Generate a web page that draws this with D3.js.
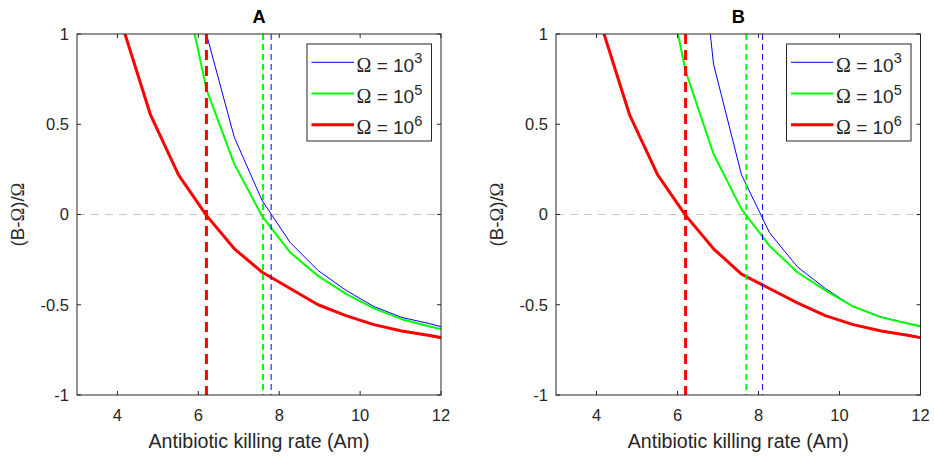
<!DOCTYPE html>
<html>
<head>
<meta charset="utf-8">
<script src="https://cdn.jsdelivr.net/npm/d3@7"></script>
<style>
  html, body { margin: 0; padding: 0; background: #fff; }
  svg { display: block; }
</style>
</head>
<body>
<svg id="chart" width="934" height="458"></svg>
<script>
// ---------------- DATA ----------------
const amGrid = [4.13, 4.82, 5.51, 6.20, 6.89, 7.58, 8.27, 8.96, 9.65, 10.34, 11.03, 11.72, 12.41];

const seriesA_blue  = [null, null, 2.40, 1.00, 0.427, 0.076, -0.155, -0.31, -0.42, -0.51, -0.57, -0.605, -0.645];
const seriesA_green = [null, null, 1.42, 0.695, 0.279, -0.01, -0.21, -0.34, -0.44, -0.52, -0.58, -0.62, -0.655];
const seriesA_red   = [1.04, 0.55, 0.22, -0.005, -0.19, -0.32, -0.41, -0.50, -0.56, -0.61, -0.645, -0.67, -0.70];

const seriesB_blue  = [null, null, null, 2.27, 0.833, 0.22, -0.10, -0.29, -0.41, -0.51, -0.567, -0.605, -0.645];
const seriesB_green = [null, null, 1.54, 0.796, 0.335, 0.03, -0.173, -0.32, -0.42, -0.51, -0.57, -0.605, -0.64];
const seriesB_red   = [1.04, 0.55, 0.22, -0.005, -0.19, -0.33, -0.41, -0.49, -0.56, -0.61, -0.645, -0.67, -0.70];

const thresholdsA = [7.8, 7.6, 6.2];   // blue, green, red
const thresholdsB = [8.1, 7.7, 6.2];

const legendExponents = ["3", "5", "6"];
const panelTitles = ["A", "B"];
const xTicks = [4, 6, 8, 10, 12];
const yTicks = [-1, -0.5, 0, 0.5, 1];
const xLabel = "Antibiotic killing rate (Am)";

// ---------------- STYLE ----------------
const colors = ["#0000ff", "#00ff00", "#ff0000"];
const widths = [1, 2, 3];
const dashes = ["6,4", "6,4", "10,6"];
const axisColor = "#262626";
const sansFont = "'Liberation Sans', Arial, Helvetica, sans-serif";
const serifFont = "'Liberation Serif', 'Times New Roman', serif";

const svg = d3.select("#chart");

const panels = [
  { left: 77,  right: 441,   series: [seriesA_blue, seriesA_green, seriesA_red], thr: thresholdsA, title: panelTitles[0] },
  { left: 556, right: 920.5, series: [seriesB_blue, seriesB_green, seriesB_red], thr: thresholdsB, title: panelTitles[1] }
];
const plotTop = 34, plotBottom = 395;

panels.forEach((p, pi) => {
  const x = d3.scaleLinear().domain([3, 12]).range([p.left, p.right]);
  const y = d3.scaleLinear().domain([-1, 1]).range([plotBottom, plotTop]);
  const g = svg.append("g");

  const clipId = "clip" + pi;
  svg.append("clipPath").attr("id", clipId)
    .append("rect").attr("x", p.left).attr("y", plotTop)
    .attr("width", p.right - p.left).attr("height", plotBottom - plotTop);

  // zero reference line
  g.append("line")
    .attr("x1", x(3)).attr("x2", x(12)).attr("y1", y(0)).attr("y2", y(0))
    .attr("stroke", "#c4c4c4").attr("stroke-width", 1).attr("stroke-dasharray", "8,6");

  // curves
  const line = d3.line()
    .defined(d => d[1] !== null)
    .x(d => x(d[0])).y(d => y(d[1]));
  p.series.forEach((s, si) => {
    const pts = amGrid.map((a, i) => [a, s[i]]);
    g.append("path")
      .attr("d", line(pts))
      .attr("fill", "none")
      .attr("stroke", colors[si])
      .attr("stroke-width", widths[si])
      .attr("stroke-linejoin", "round")
      .attr("clip-path", `url(#${clipId})`);
  });

  // threshold dashed verticals
  p.thr.forEach((t, si) => {
    g.append("line")
      .attr("x1", x(t)).attr("x2", x(t)).attr("y1", y(1)).attr("y2", y(-1))
      .attr("stroke", colors[si]).attr("stroke-width", widths[si])
      .attr("stroke-dasharray", dashes[si]);
  });

  // axes box
  g.append("rect")
    .attr("x", p.left).attr("y", plotTop).attr("width", p.right - p.left).attr("height", plotBottom - plotTop)
    .attr("fill", "none").attr("stroke", axisColor).attr("stroke-width", 1);

  const tl = 4;
  xTicks.forEach(t => {
    g.append("line").attr("x1", x(t)).attr("x2", x(t)).attr("y1", plotBottom).attr("y2", plotBottom - tl)
      .attr("stroke", axisColor);
    g.append("line").attr("x1", x(t)).attr("x2", x(t)).attr("y1", plotTop).attr("y2", plotTop + tl)
      .attr("stroke", axisColor);
    g.append("text").attr("x", x(t)).attr("y", 420.5)
      .attr("text-anchor", "middle").attr("font-family", sansFont).attr("font-size", 16.5)
      .attr("fill", axisColor).text(d3.format("d")(t));
  });
  yTicks.forEach(t => {
    g.append("line").attr("x1", p.left).attr("x2", p.left + tl).attr("y1", y(t)).attr("y2", y(t))
      .attr("stroke", axisColor);
    g.append("line").attr("x1", p.right).attr("x2", p.right - tl).attr("y1", y(t)).attr("y2", y(t))
      .attr("stroke", axisColor);
    g.append("text").attr("x", p.left - 8).attr("y", y(t)).attr("dy", "0.36em")
      .attr("text-anchor", "end").attr("font-family", sansFont).attr("font-size", 16.5)
      .attr("fill", axisColor).text(String(t));
  });

  // x label
  g.append("text").attr("x", (p.left + p.right) / 2).attr("y", 448)
    .attr("text-anchor", "middle").attr("font-family", sansFont).attr("font-size", 19.6)
    .attr("fill", axisColor).text(xLabel);

  // y label
  const yl = g.append("text")
    .attr("transform", `translate(${p.left - 53},${(plotTop + plotBottom) / 2}) rotate(-90)`)
    .attr("text-anchor", "middle").attr("font-family", sansFont).attr("font-size", 18.6)
    .attr("fill", axisColor);
  yl.append("tspan").text("(B-");
  yl.append("tspan").attr("font-family", serifFont).text("Ω");
  yl.append("tspan").text(")/");
  yl.append("tspan").attr("font-family", serifFont).text("Ω");

  // title
  g.append("text").attr("x", (p.left + p.right) / 2).attr("y", 22.5)
    .attr("text-anchor", "middle").attr("font-family", sansFont).attr("font-size", 18.2)
    .attr("font-weight", "bold").attr("fill", "#000").text(p.title);

  // legend
  const lx = p.right - 134, ly = 44, lw = 124.5, lh = 97;
  const lg = g.append("g");
  lg.append("rect").attr("x", lx).attr("y", ly).attr("width", lw).attr("height", lh)
    .attr("fill", "#fff").attr("stroke", axisColor).attr("stroke-width", 1);
  legendExponents.forEach((e, i) => {
    const ry = ly + 18.3 + i * 31.2;
    lg.append("line").attr("x1", lx + 4.5).attr("x2", lx + 47).attr("y1", ry).attr("y2", ry)
      .attr("stroke", colors[i]).attr("stroke-width", widths[i]);
    const tx = lg.append("text").attr("x", lx + 49.5).attr("y", ry + 9.5)
      .attr("font-family", sansFont).attr("font-size", 19).attr("fill", axisColor);
    tx.append("tspan").attr("font-family", serifFont).attr("font-size", 20).text("Ω");
    tx.append("tspan").text(" = 10");
    tx.append("tspan").attr("font-size", 14.5).attr("dy", -8.5).text(e);
  });
});
</script>
</body>
</html>
